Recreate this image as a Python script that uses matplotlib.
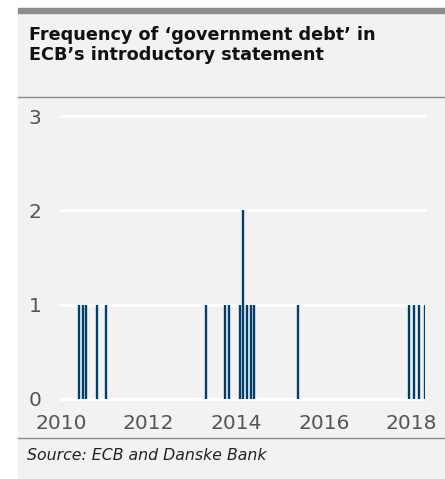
import matplotlib
matplotlib.use('Agg')
import matplotlib.pyplot as plt
from matplotlib.patches import Rectangle
from matplotlib.lines import Line2D


#%% Data

dates = [2010.41, 2010.50, 2010.57, 2010.82, 2011.02,
         2013.31, 2013.74, 2013.83, 2014.08, 2014.16, 2014.24, 2014.33,
         2014.41, 2015.40,
         2017.94, 2018.05, 2018.17, 2018.30]
counts = [1, 1, 1, 1, 1,
          1, 1, 1, 1, 2, 1, 1,
          1, 1,
          1, 1, 1, 1]

x_ticks = [2010, 2012, 2014, 2016, 2018]
y_ticks = [0, 1, 2, 3]

title = "Frequency of \u2018government debt\u2019 in\nECB\u2019s introductory statement"
source = "Source: ECB and Danske Bank"

panel_bg = '#f2f2f2'
bar_col = '#003f6b'
rule_col = '#8c8c8c'


#%% Figure

fig = plt.figure(figsize=(4.45, 4.79), dpi=100, facecolor='white')

# grey panel, top bar and separator rules
fig.patches.append(Rectangle((18 / 445, 0), 1 - 18 / 445, 1 - 12.5 / 479,
                             transform=fig.transFigure, color=panel_bg,
                             zorder=-2))
fig.patches.append(Rectangle((18 / 445, 1 - 12.7 / 479), 1 - 18 / 445,
                             4.4 / 479, transform=fig.transFigure,
                             color=rule_col, zorder=-1))
for yy in [1 - 96.7 / 479, 1 - 438 / 479]:
    fig.lines.append(Line2D([18 / 445, 1], [yy, yy], transform=fig.transFigure,
                            color=rule_col, lw=1.0, zorder=-1))

fig.text(29 / 445, 1 - 25.5 / 479, title, ha='left', va='top',
         fontsize=12.7, fontweight='bold', color='#111111', linespacing=1.2)
fig.text(27 / 445, 1 - 455 / 479, source, ha='left', va='center',
         fontsize=11.3, style='italic', color='#222222')

ax = fig.add_axes([61 / 445, 80 / 479, (425 - 61) / 445, (399 - 116) / 479])
ax.set_facecolor('none')

ax.vlines(dates, 0, counts, color=bar_col, lw=1.7, zorder=3)

ax.set_xlim(2010.0, 2018.31)
ax.set_ylim(0, 3)
ax.set_xticks(x_ticks)
ax.set_xticklabels([str(t) for t in x_ticks])
ax.set_yticks(y_ticks)
ax.set_yticklabels([str(t) for t in y_ticks])

for t in y_ticks:
    ax.axhline(t, color='white', lw=2, zorder=1, clip_on=False)

for s in ax.spines.values():
    s.set_visible(False)
ax.tick_params(axis='both', length=0, labelsize=14.5, labelcolor='#555555')
ax.tick_params(axis='y', pad=14)
ax.tick_params(axis='x', pad=11)

fig.savefig('out.png', dpi=100, facecolor=fig.get_facecolor())
